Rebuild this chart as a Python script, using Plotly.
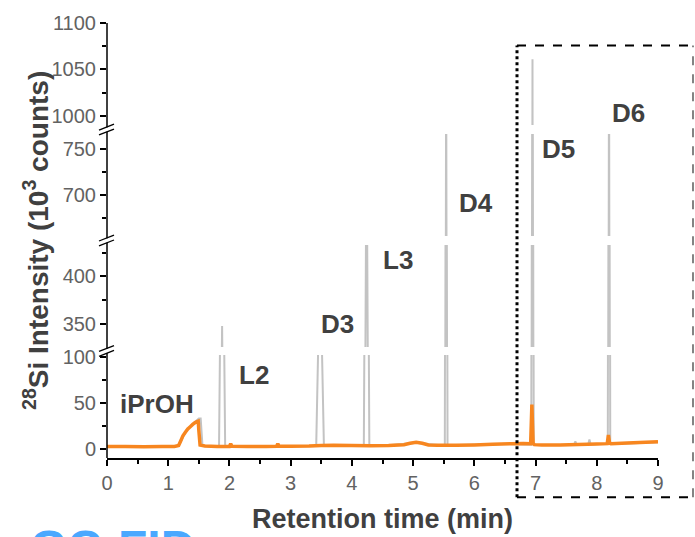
import plotly.graph_objects as go

# ---------------- data ----------------
# orange trace
orange_t = [0.00, 0.30, 0.60, 0.90, 1.10, 1.17, 1.20, 1.24, 1.28, 1.32, 1.36, 1.40, 1.44, 1.47,
            1.49, 1.50, 1.52, 1.60, 1.80, 2.00, 2.02, 2.04, 2.30, 2.60, 2.77, 2.79, 2.81, 3.00,
            3.30, 3.50, 3.70, 4.00, 4.30, 4.60, 4.85, 4.95, 5.05, 5.15, 5.25, 5.40, 5.70, 6.00,
            6.30, 6.60, 6.80, 6.92, 6.94, 6.96, 6.98, 7.10, 7.40, 7.70, 8.00, 8.17, 8.19, 8.21,
            8.23, 8.50, 8.80, 9.00]
orange_y = [2.5, 2.4, 2.3, 2.4, 2.6, 3.5, 8.0, 14.0, 18.0, 21.5, 24.0, 26.5, 28.5, 29.5,
            30.0, 20.0, 4.0, 3.0, 2.6, 2.6, 5.5, 2.8, 2.6, 2.6, 2.7, 5.5, 2.8, 2.8,
            3.0, 3.5, 3.8, 3.5, 3.4, 3.6, 4.5, 6.0, 7.2, 6.0, 4.2, 3.8, 3.8, 4.2,
            5.0, 5.5, 5.8, 5.5, 48.0, 6.0, 4.5, 4.0, 4.2, 4.6, 5.2, 5.6, 15.0, 6.0,
            5.6, 6.2, 7.0, 7.6]

# grey trace: baseline points
grey_t = [0.0, 0.5, 1.0, 1.17, 1.22, 1.30, 1.40, 1.50, 1.53, 1.56, 1.70, 2.50, 3.60, 4.50,
          5.05, 5.45, 6.50, 7.00, 7.63, 7.65, 7.67, 7.86, 7.88, 7.90, 8.50, 9.00]
grey_y = [2.3, 2.3, 2.4, 3.0, 10.0, 20.0, 27.0, 33.0, 33.0, 3.0, 2.6, 2.6, 3.3, 3.4,
          6.5, 3.8, 5.3, 4.0, 4.5, 8.0, 4.5, 4.6, 10.0, 4.6, 5.8, 7.2]

# grey trace: sharp peaks (apex time, apex height, half base width, foot level)
peak_names = ["L2", "D3", "L3", "D4", "D5", "D6"]
peak_t = [1.88, 3.48, 4.24, 5.54, 6.95, 8.20]
peak_h = [348, 210, 560, 860, 1061, 880]
peak_hw = [0.05, 0.063, 0.045, 0.022, 0.02, 0.02]
peak_foot = [2.6, 3.0, 3.3, 3.9, 4.5, 5.6]

# labels (x in minutes)
label_text = ["iPrOH", "L2", "D3", "L3", "D4", "D5", "D6"]
label_x = [0.82, 2.40, 3.76, 4.75, 6.03, 7.37, 8.51]
label_ypx = [403, 373, 322, 256, 198, 143, 107]

# broken y-axis segments: ranges
seg_ranges = [[-10, 102], [326, 433], [656, 766], [990, 1100]]
# pixel extents of each segment (bottom, top) in the 537 px tall picture
seg_px = [[458, 353], [345, 241], [232, 128], [119, 15]]

# ---------------- build ----------------
W, H = 695, 537
L, R, T, B = 107, 37, 15, 79
ph = H - T - B
pw = W - L - R


def py(p):
    return (H - B - p) / ph


def pxx(p):
    return (p - L) / pw


# full grey trace (baseline + peaks) for the lowest segment
pts = list(zip(grey_t, grey_y))
for t, h, hw, f in zip(peak_t, peak_h, peak_hw, peak_foot):
    pts += [(t - hw, f), (t, h), (t + hw, f)]
pts.sort()
gx = [p[0] for p in pts]
gy = [p[1] for p in pts]

# peaks only (separated) for the upper segments
px_, py_ = [], []
for t, h, hw, f in zip(peak_t, peak_h, peak_hw, peak_foot):
    px_ += [t - hw, t, t + hw, None]
    py_ += [f, h, f, None]

GREY = "#c3c3c3"
ORANGE = "#f7861f"
FONT = "Arial, Liberation Sans, sans-serif"

fig = go.Figure()
axnames = ["y", "y2", "y3", "y4"]
for i, ax in enumerate(axnames):
    if i == 0:
        fig.add_trace(go.Scatter(x=gx, y=gy, mode="lines", yaxis=ax, xaxis="x",
                                 line=dict(color=GREY, width=2, simplify=False),
                                 showlegend=False, hoverinfo="skip"))
        fig.add_trace(go.Scatter(x=orange_t, y=orange_y, mode="lines", yaxis=ax, xaxis="x",
                                 line=dict(color=ORANGE, width=3.5, simplify=False),
                                 showlegend=False, hoverinfo="skip"))
    else:
        fig.add_trace(go.Scatter(x=px_, y=py_, mode="lines", yaxis=ax, xaxis="x",
                                 connectgaps=False,
                                 line=dict(color=GREY, width=2, simplify=False),
                                 showlegend=False, hoverinfo="skip"))

TICKFONT = dict(size=20, color="#626262", family=FONT)
layout = dict(
    width=W, height=H,
    margin=dict(l=L, r=R, t=T, b=B, pad=0),
    paper_bgcolor="white", plot_bgcolor="white",
    font=dict(family=FONT, color="#555555"),
    showlegend=False,
    xaxis=dict(range=[0, 9], anchor="y", showgrid=False, zeroline=False,
               showline=True, linecolor="black", linewidth=1.5,
               ticks="outside", ticklen=6, tickwidth=1.5, tickcolor="black",
               dtick=1, tick0=0, tickfont=TICKFONT,
               minor=dict(dtick=0.5, ticks="outside", ticklen=4, tickwidth=1.5,
                          tickcolor="black")),
)
for i, ax in enumerate(axnames):
    key = "yaxis" if i == 0 else "yaxis%d" % (i + 1)
    b, t = seg_px[i]
    layout[key] = dict(
        domain=[py(b), py(t)], range=seg_ranges[i], anchor="x",
        showgrid=False, zeroline=False, showline=False,
        ticks="outside", ticklen=6, tickwidth=1.5, tickcolor="black",
        dtick=50, tick0=0, tickfont=TICKFONT,
        minor=dict(dtick=25, tick0=0, ticks="outside", ticklen=4, tickwidth=1.5,
                   tickcolor="black"),
    )
fig.update_layout(**layout)

shapes = []
# continuous y axis line
shapes.append(dict(type="line", xref="paper", yref="paper", x0=0, x1=0, y0=0, y1=1,
                   line=dict(color="black", width=1.5)))
# break marks
for c in [349, 236.5, 123.5]:
    shapes.append(dict(type="line", xref="paper", yref="paper", x0=0, x1=0,
                       y0=py(c - 2.2), y1=py(c + 2.2), line=dict(color="white", width=3)))
    for off in (-2.5, 2.5):
        shapes.append(dict(type="line", xref="paper", yref="paper",
                           x0=pxx(99), x1=pxx(114), y0=py(c + off + 3), y1=py(c + off - 3),
                           line=dict(color="black", width=1.3)))
# dashed box around D5/D6 region
bx0, bx1, by0, by1 = pxx(517), pxx(693), py(498), py(38)
shapes.append(dict(type="line", xref="paper", yref="paper", x0=bx0, x1=bx0, y0=by0, y1=by1,
                   line=dict(color="black", width=3, dash="dot")))
shapes.append(dict(type="line", xref="paper", yref="paper", x0=bx0, x1=bx1, y0=by1, y1=by1,
                   line=dict(color="black", width=2, dash="dash")))
shapes.append(dict(type="line", xref="paper", yref="paper", x0=bx0, x1=bx1, y0=by0, y1=by0,
                   line=dict(color="black", width=2, dash="dash")))
shapes.append(dict(type="line", xref="paper", yref="paper", x0=bx1, x1=bx1, y0=by0, y1=by1,
                   line=dict(color="#333333", width=1.2, dash="dash")))
fig.update_layout(shapes=shapes)

ann = []
for txt, x, yp in zip(label_text, label_x, label_ypx):
    ann.append(dict(text="<b>%s</b>" % txt, x=x, xref="x", y=py(yp), yref="paper",
                    showarrow=False, xanchor="center", yanchor="middle",
                    font=dict(size=26, color="#404040", family=FONT)))
ann.append(dict(text="<b>Retention time (min)</b>", x=0.5, xref="paper", y=py(520),
                yref="paper", showarrow=False, xanchor="center", yanchor="middle",
                font=dict(size=27, color="#404040", family=FONT)))
ann.append(dict(text="<b><sup>28</sup>Si Intensity (10<sup>3</sup> counts)</b>",
                x=pxx(36), xref="paper", y=py(237), yref="paper", textangle=-90,
                showarrow=False, xanchor="center", yanchor="middle",
                font=dict(size=28, color="#404040", family=FONT)))
ann.append(dict(text="<b>GC-FID</b>", x=pxx(28), xref="paper", y=py(520), yref="paper",
                showarrow=False, xanchor="left", yanchor="top",
                font=dict(size=48, color="#4aa8ff", family=FONT)))
fig.update_layout(annotations=ann)

fig.write_html("out.html")
